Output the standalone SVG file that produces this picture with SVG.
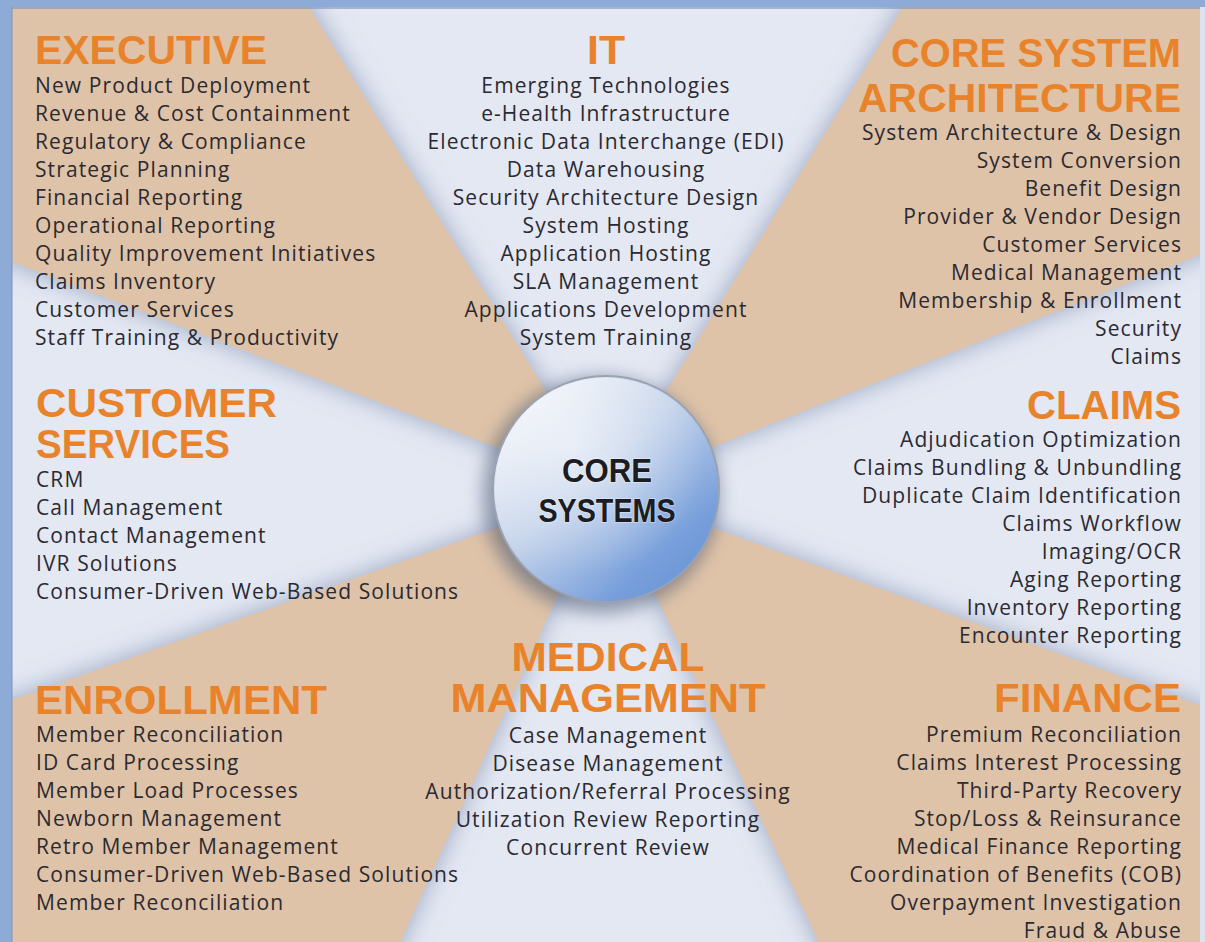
<svg xmlns="http://www.w3.org/2000/svg" width="1205" height="942" viewBox="0 0 1205 942">
<defs>
<style>
.h{font-family:"Liberation Sans",Arial,sans-serif;font-weight:bold;font-size:40px;fill:#e8832b}
.t{font-family:"Open Sans","Liberation Sans",sans-serif;font-size:21px;letter-spacing:1.1px;fill:#2b2a31}
.m{text-anchor:middle}
.e{text-anchor:end}
.tan{fill:#dfc3a8}
.cs{font-family:"Liberation Sans",Arial,sans-serif;font-weight:bold;font-size:33px;fill:#1c1c22;text-anchor:middle;stroke:#ffffff;stroke-opacity:0.35;stroke-width:2;paint-order:stroke}
</style>
<filter id="wshadow" x="-20%" y="-20%" width="140%" height="140%">
<feGaussianBlur in="SourceAlpha" stdDeviation="13" result="b"/>
<feFlood flood-color="#7f8eab" flood-opacity="0.75"/>
<feComposite in2="b" operator="in" result="s"/>
<feMerge><feMergeNode in="s"/><feMergeNode in="SourceGraphic"/></feMerge>
</filter>
<filter id="blur8" x="-30%" y="-30%" width="160%" height="160%">
<feGaussianBlur stdDeviation="9"/>
</filter>
<linearGradient id="sph" x1="0.15" y1="0.1" x2="0.9" y2="0.95">
<stop offset="0" stop-color="#eff2f8"/>
<stop offset="0.4" stop-color="#c3d2ea"/>
<stop offset="0.8" stop-color="#789fdb"/>
<stop offset="1" stop-color="#6693d4"/>
</linearGradient>
<radialGradient id="sphHi" cx="0.35" cy="0.3" r="0.6">
<stop offset="0" stop-color="#ffffff" stop-opacity="0.5"/>
<stop offset="1" stop-color="#ffffff" stop-opacity="0"/>
</radialGradient>
</defs>

<g id="background">
<rect x="0" y="0" width="1205" height="942" fill="#e4e8f3"/>
<g id="wedges" filter="url(#wshadow)">
<polygon class="tan" points="606,489 274,-50 -50,-50 -50,238"/>
<polygon class="tan" points="606,489 938,-50 1260,-50 1260,231"/>
<polygon class="tan" points="606,489 1260,727 1260,1000 846,1000"/>
<polygon class="tan" points="606,489 374,1000 -50,1000 -50,722"/>
</g>
<rect x="0" y="0" width="1205" height="7" fill="#8eaad6"/>
<rect x="0" y="7" width="1205" height="2" fill="#7f93b5" opacity="0.6"/>
<rect x="0" y="0" width="12" height="942" fill="#8eaad6"/>
<rect x="11" y="7" width="2" height="935" fill="#7f93b5" opacity="0.5"/>
<rect x="1200" y="7" width="5" height="935" fill="#dde3ee"/>
</g>

<g id="connectors"></g>

<g id="core">
<circle cx="601" cy="495" r="118" fill="#45536e" opacity="0.55" filter="url(#blur8)"/>
<circle cx="606" cy="489" r="113" fill="url(#sph)" stroke="#9aa3b1" stroke-width="2"/>
<circle cx="606" cy="489" r="111" fill="url(#sphHi)"/>
<text class="cs" x="607" y="482" textLength="90" lengthAdjust="spacingAndGlyphs">CORE</text>
<text class="cs" x="607" y="522" textLength="137" lengthAdjust="spacingAndGlyphs">SYSTEMS</text>
</g>

<g id="executive">
<text class="h" x="35" y="64" textLength="232" lengthAdjust="spacingAndGlyphs">EXECUTIVE</text>
<text class="t" x="35" y="93">New Product Deployment</text>
<text class="t" x="35" y="121">Revenue &amp; Cost Containment</text>
<text class="t" x="35" y="149">Regulatory &amp; Compliance</text>
<text class="t" x="35" y="177">Strategic Planning</text>
<text class="t" x="35" y="205">Financial Reporting</text>
<text class="t" x="35" y="233">Operational Reporting</text>
<text class="t" x="35" y="261">Quality Improvement Initiatives</text>
<text class="t" x="35" y="289">Claims Inventory</text>
<text class="t" x="35" y="317">Customer Services</text>
<text class="t" x="35" y="345">Staff Training &amp; Productivity</text>
</g>

<g id="it">
<text class="h m" x="606" y="64" textLength="38" lengthAdjust="spacingAndGlyphs">IT</text>
<text class="t m" x="606" y="93">Emerging Technologies</text>
<text class="t m" x="606" y="121">e-Health Infrastructure</text>
<text class="t m" x="606" y="149">Electronic Data Interchange (EDI)</text>
<text class="t m" x="606" y="177">Data Warehousing</text>
<text class="t m" x="606" y="205">Security Architecture Design</text>
<text class="t m" x="606" y="233">System Hosting</text>
<text class="t m" x="606" y="261">Application Hosting</text>
<text class="t m" x="606" y="289">SLA Management</text>
<text class="t m" x="606" y="317">Applications Development</text>
<text class="t m" x="606" y="345">System Training</text>
</g>

<g id="core-system-architecture">
<text class="h e" x="1181" y="67" textLength="290" lengthAdjust="spacingAndGlyphs">CORE SYSTEM</text>
<text class="h e" x="1181" y="112" textLength="323" lengthAdjust="spacingAndGlyphs">ARCHITECTURE</text>
<text class="t e" x="1182" y="140">System Architecture &amp; Design</text>
<text class="t e" x="1182" y="168">System Conversion</text>
<text class="t e" x="1182" y="196">Benefit Design</text>
<text class="t e" x="1182" y="224">Provider &amp; Vendor Design</text>
<text class="t e" x="1182" y="252">Customer Services</text>
<text class="t e" x="1182" y="280">Medical Management</text>
<text class="t e" x="1182" y="308">Membership &amp; Enrollment</text>
<text class="t e" x="1182" y="336">Security</text>
<text class="t e" x="1182" y="364">Claims</text>
</g>

<g id="customer-services">
<text class="h" x="36" y="417" textLength="241" lengthAdjust="spacingAndGlyphs">CUSTOMER</text>
<text class="h" x="36" y="458" textLength="194" lengthAdjust="spacingAndGlyphs">SERVICES</text>
<text class="t" x="36" y="487">CRM</text>
<text class="t" x="36" y="515">Call Management</text>
<text class="t" x="36" y="543">Contact Management</text>
<text class="t" x="36" y="571">IVR Solutions</text>
<text class="t" x="36" y="599">Consumer-Driven Web-Based Solutions</text>
</g>

<g id="claims">
<text class="h e" x="1181" y="419" font-size="38" textLength="154" lengthAdjust="spacingAndGlyphs">CLAIMS</text>
<text class="t e" x="1182" y="447">Adjudication Optimization</text>
<text class="t e" x="1182" y="475">Claims Bundling &amp; Unbundling</text>
<text class="t e" x="1182" y="503">Duplicate Claim Identification</text>
<text class="t e" x="1182" y="531">Claims Workflow</text>
<text class="t e" x="1182" y="559">Imaging/OCR</text>
<text class="t e" x="1182" y="587">Aging Reporting</text>
<text class="t e" x="1182" y="615">Inventory Reporting</text>
<text class="t e" x="1182" y="643">Encounter Reporting</text>
</g>

<g id="medical-management">
<text class="h m" x="608" y="671" textLength="193" lengthAdjust="spacingAndGlyphs">MEDICAL</text>
<text class="h m" x="608" y="712" textLength="315" lengthAdjust="spacingAndGlyphs">MANAGEMENT</text>
<text class="t m" x="608" y="743">Case Management</text>
<text class="t m" x="608" y="771">Disease Management</text>
<text class="t m" x="608" y="799">Authorization/Referral Processing</text>
<text class="t m" x="608" y="827">Utilization Review Reporting</text>
<text class="t m" x="608" y="855">Concurrent Review</text>
</g>

<g id="enrollment">
<text class="h" x="35" y="714" textLength="292" lengthAdjust="spacingAndGlyphs">ENROLLMENT</text>
<text class="t" x="36" y="742">Member Reconciliation</text>
<text class="t" x="36" y="770">ID Card Processing</text>
<text class="t" x="36" y="798">Member Load Processes</text>
<text class="t" x="36" y="826">Newborn Management</text>
<text class="t" x="36" y="854">Retro Member Management</text>
<text class="t" x="36" y="882">Consumer-Driven Web-Based Solutions</text>
<text class="t" x="36" y="910">Member Reconciliation</text>
</g>

<g id="finance">
<text class="h e" x="1181" y="712" textLength="187" lengthAdjust="spacingAndGlyphs">FINANCE</text>
<text class="t e" x="1182" y="742">Premium Reconciliation</text>
<text class="t e" x="1182" y="770">Claims Interest Processing</text>
<text class="t e" x="1182" y="798">Third-Party Recovery</text>
<text class="t e" x="1182" y="826">Stop/Loss &amp; Reinsurance</text>
<text class="t e" x="1182" y="854">Medical Finance Reporting</text>
<text class="t e" x="1182" y="882">Coordination of Benefits (COB)</text>
<text class="t e" x="1182" y="910">Overpayment Investigation</text>
<text class="t e" x="1182" y="938">Fraud &amp; Abuse</text>
</g>
</svg>
